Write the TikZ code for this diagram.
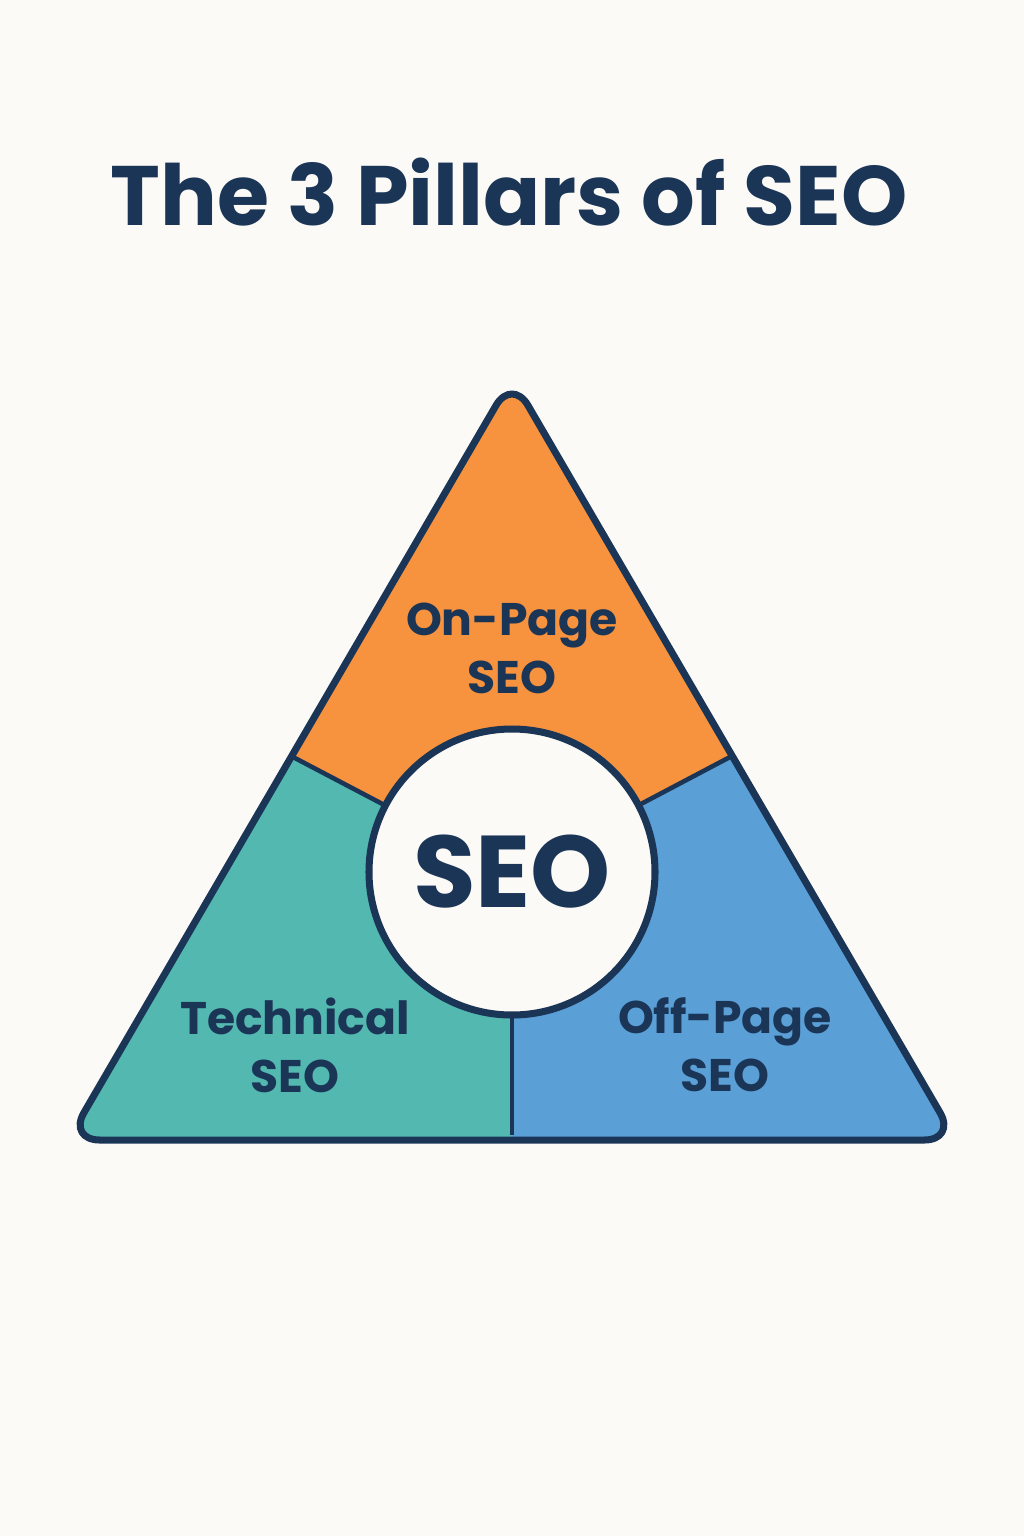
\documentclass[tikz,border=0pt]{standalone}
\usepackage{fontspec}
\setmainfont{Poppins}
\definecolor{navy}{HTML}{1B3557}
\definecolor{onpage}{HTML}{F7923E}
\definecolor{technical}{HTML}{52B8B0}
\definecolor{offpage}{HTML}{5A9FD6}
\definecolor{paper}{HTML}{FCFAF6}
\tikzset{
  pillar/.style={text=navy,font=\fontsize{26}{33}\selectfont\bfseries,align=center},
  divider/.style={draw=navy,line width=2.6pt}
}
\begin{document}
\begin{tikzpicture}[x=0.02cm,y=-0.02cm]
    \fill[paper] (0,0) rectangle (1024,1536);
    \useasboundingbox (0,0) rectangle (1024,1536);
    % title
    \node[text=navy,font=\fontsize{48}{54}\selectfont\bfseries] (title) at (509,192) {The 3 Pillars of SEO};
    % corners of the pyramid
    \coordinate (top) at (512,378);
    \coordinate (bl)  at (68,1140);
    \coordinate (br)  at (956,1140);
    \coordinate (hub) at (512,872);
    \coordinate (ls)  at (293,757);
    \coordinate (rs)  at (730,757);
    \coordinate (bs)  at (512,1135);
    % regions
    \begin{scope}
        \clip[rounded corners=18] (top) -- (br) -- (bl) -- cycle;
        \fill[technical] (0,300) rectangle (1024,1200);
        \fill[onpage] (hub) -- (100,655) -- (512,300) -- (924,655) -- cycle;
        \fill[offpage] (hub) -- (924,655) -- (1000,1200) -- (512,1200) -- cycle;
    \end{scope}
    \draw[divider] (ls) -- (hub);
    \draw[divider] (rs) -- (hub);
    \draw[divider] (bs) -- (hub);
    \draw[divider,line width=4pt,rounded corners=18,line join=round] (top) -- (br) -- (bl) -- cycle;
    % centre
    \node[circle,fill=paper,draw=navy,line width=4pt,minimum size=286*0.02cm,inner sep=0pt] (core) at (hub) {};
    \node[text=navy,font=\fontsize{58}{64}\selectfont\bfseries] (coretext) at (hub) {SEO};
    % labels
    \node[pillar] (onp)  at (512,648)  {On-Page\\SEO};
    \node[pillar] (tech) at (295,1045) {Technical\\SEO};
    \node[pillar] (offp) at (725,1045) {Off-Page\\SEO};
\end{tikzpicture}
\end{document}
